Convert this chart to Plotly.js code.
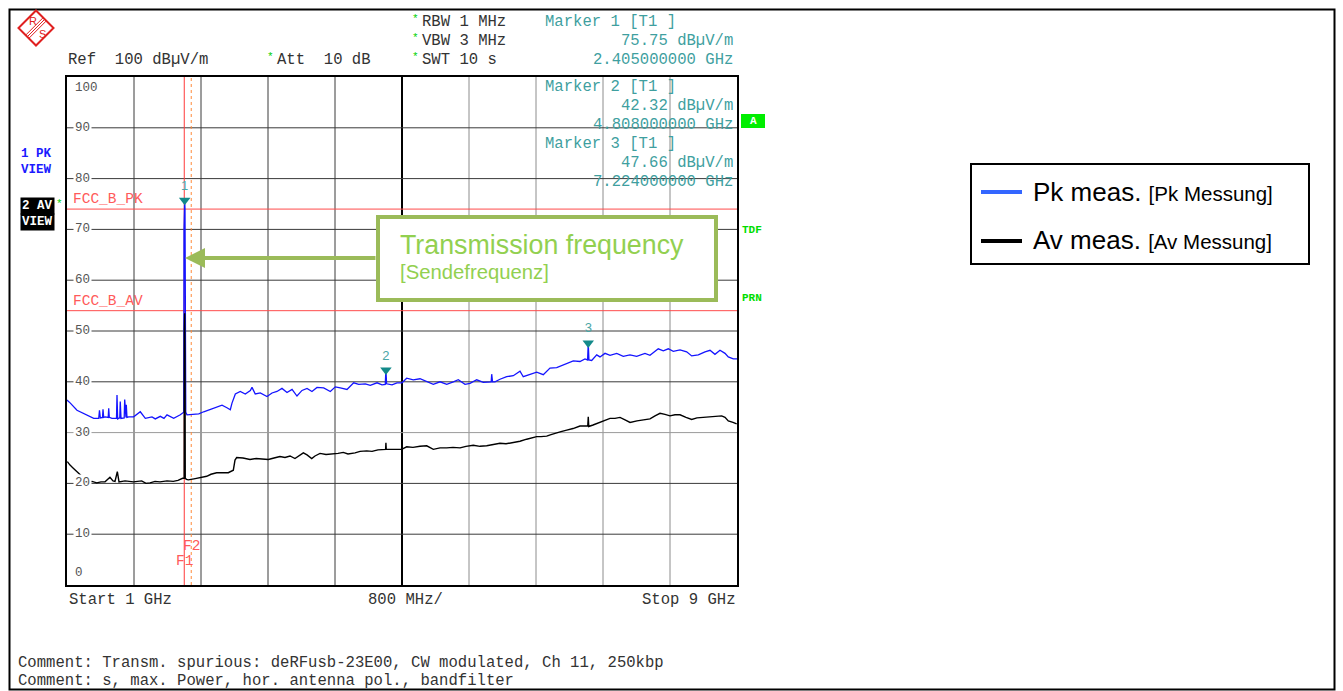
<!DOCTYPE html>
<html><head><meta charset="utf-8">
<script src="https://cdn.plot.ly/plotly-3.0.1.min.js"></script>
<style>html,body{margin:0;padding:0;background:#fff;}#chart{width:1343px;height:691px;}</style>
</head><body><div id="chart"></div>
<script>
// ---------------- data ----------------
const startGHz = 1, stopGHz = 9, spanPerDiv = 0.8;
const pkFreq = [1.000,1.040,1.119,1.179,1.239,1.319,1.379,1.388,1.398,1.424,1.430,1.438,1.457,1.492,1.498,1.505,1.537,1.591,1.597,1.605,1.630,1.636,1.645,1.683,1.689,1.696,1.704,1.708,1.716,1.737,1.796,1.875,1.935,2.015,2.054,2.114,2.158,2.194,2.274,2.353,2.385,2.394,2.397,2.401,2.405,2.409,2.413,2.418,2.433,2.493,2.573,2.632,2.711,2.791,2.851,2.910,2.950,2.970,3.010,3.069,3.129,3.189,3.209,3.248,3.308,3.388,3.448,3.507,3.567,3.627,3.687,3.746,3.806,3.866,3.925,3.985,4.065,4.144,4.204,4.263,4.343,4.423,4.483,4.562,4.621,4.702,4.761,4.800,4.808,4.816,4.881,4.940,5.000,5.056,5.135,5.215,5.295,5.374,5.454,5.534,5.613,5.672,5.752,5.812,5.892,5.971,6.065,6.071,6.081,6.110,6.170,6.250,6.329,6.409,6.448,6.528,6.608,6.687,6.767,6.847,6.926,6.986,7.045,7.125,7.185,7.216,7.224,7.232,7.265,7.325,7.364,7.424,7.484,7.564,7.642,7.722,7.802,7.901,7.961,8.060,8.120,8.180,8.239,8.320,8.399,8.459,8.538,8.618,8.678,8.737,8.797,8.857,8.896,8.956,9.000];
const pkLevel = [36.4,35.8,34.4,33.9,33.5,32.8,32.8,34.4,32.9,33.0,34.6,33.0,33.1,33.0,34.8,33.0,32.8,32.8,37.4,32.7,32.9,36.1,32.8,32.9,36.5,33.0,33.0,35.5,33.0,33.1,33.1,34.1,32.8,33.1,32.7,33.2,32.8,33.5,32.8,33.5,33.8,34.0,70.0,74.5,75.75,74.0,56.0,34.0,33.5,33.6,33.7,34.1,34.6,35.0,35.4,34.9,34.5,35.8,37.6,38.1,37.6,38.3,38.9,37.6,37.8,37.1,37.8,38.1,38.7,37.9,38.5,37.2,38.3,38.7,38.1,38.9,38.8,38.1,39.0,38.8,38.5,39.8,39.5,39.6,39.3,39.8,39.4,39.5,42.32,39.6,39.4,39.8,39.8,40.7,40.4,40.6,40.0,39.5,40.0,39.5,40.0,40.4,39.5,39.7,40.4,39.9,40.0,41.5,40.0,40.0,40.5,41.0,41.2,42.1,41.0,41.5,41.9,41.4,42.7,42.8,43.3,43.6,44.1,44.0,44.5,44.3,47.66,44.3,44.2,45.3,44.9,45.6,45.2,45.6,45.0,45.3,45.0,45.6,45.2,46.5,46.1,46.5,46.0,46.3,45.9,45.1,45.3,45.9,46.2,45.4,46.2,45.6,44.9,44.5,44.5];
const avFreq = [1.004,1.036,1.075,1.116,1.155,1.203,1.254,1.299,1.355,1.406,1.454,1.513,1.549,1.573,1.601,1.621,1.693,1.792,1.892,1.943,1.991,2.051,2.110,2.194,2.269,2.325,2.381,2.399,2.401,2.405,2.409,2.412,2.427,2.448,2.516,2.588,2.668,2.719,2.787,2.851,2.926,2.986,3.006,3.026,3.101,3.185,3.257,3.328,3.404,3.472,3.543,3.603,3.663,3.722,3.782,3.822,3.866,3.922,3.961,4.021,4.093,4.180,4.236,4.299,4.355,4.439,4.499,4.579,4.642,4.713,4.776,4.804,4.808,4.812,4.833,4.916,4.996,5.056,5.131,5.215,5.295,5.374,5.454,5.534,5.609,5.693,5.764,5.851,5.931,6.011,6.086,6.170,6.242,6.329,6.409,6.489,6.540,6.608,6.660,6.728,6.779,6.847,6.898,6.967,7.042,7.125,7.185,7.218,7.224,7.230,7.281,7.364,7.424,7.484,7.543,7.603,7.663,7.723,7.806,7.881,7.961,8.021,8.081,8.140,8.200,8.260,8.320,8.391,8.459,8.522,8.597,8.678,8.749,8.817,8.857,8.896,8.952,8.996];
const avLevel = [24.3,23.6,23.0,22.3,21.7,21.0,20.3,20.4,20.1,20.3,20.3,21.2,20.5,20.4,22.3,20.3,20.5,20.3,20.5,20.0,20.1,20.4,20.3,20.5,20.4,20.6,21.0,21.0,50.0,53.5,45.0,21.0,20.8,20.7,20.9,21.2,21.4,21.8,22.1,22.1,22.1,22.6,24.6,25.1,25.0,24.7,24.9,24.8,24.7,25.0,25.3,25.1,25.4,24.9,25.6,26.0,25.6,24.9,25.4,25.9,25.7,25.8,25.9,26.1,25.8,26.0,26.3,26.4,26.3,26.6,26.7,26.7,28.0,26.7,26.7,26.7,26.7,27.2,27.1,27.3,27.4,26.7,27.0,27.0,27.1,27.0,27.3,27.5,27.3,27.4,27.7,27.9,27.8,28.0,28.3,28.7,28.9,29.2,29.2,29.3,29.6,30.0,30.2,30.5,30.8,31.3,31.3,31.3,33.1,31.2,31.5,32.0,32.4,32.8,32.8,33.0,32.5,32.0,32.3,32.5,32.7,33.3,33.8,33.6,33.3,33.5,33.5,33.0,32.6,32.9,33.0,33.1,33.2,33.3,33.0,32.3,32.0,31.7];
const markerNames = ['1','2','3'];
const markerFreq = [2.405, 4.808, 7.224];
const markerLevel = [75.75, 42.32, 47.66];
const limitNames = ['FCC_B_PK','FCC_B_AV'];
const limitLevel = [74, 54];
const freqLineNames = ['F1','F2'];
const freqLineGHz = [2.4, 2.4835];
const yTickValues = [0,10,20,30,40,50,60,70,80,90,100];
const legendNames = ['Pk meas.','Av meas.'];
const legendNamesDe = ['[Pk Messung]','[Av Messung]'];
const commentLines = ['Comment: Transm. spurious: deRFusb-23E00, CW modulated, Ch 11, 250kbp','Comment: s, max. Power, hor. antenna pol., bandfilter'];

// ---------------- layout helpers (pixel -> paper) ----------------
const L = 67, R = 737, T = 77, B = 585;
const px = x => (x - L) / (R - L);
const py = y => (B - y) / (B - T);
const MONO = 'Liberation Mono, Courier New, monospace';
const SANS = 'Liberation Sans, Arial, sans-serif';
const TEAL = '#3f9f9f';
const FS = 15.6;

function txt(text, x, y, o) {
  o = o || {};
  return {text: text, xref:'paper', yref:'paper', x: px(x), y: py(y),
    xanchor: o.xa || 'left', yanchor: o.ya || 'middle', showarrow:false,
    borderpad: o.pad === undefined ? 0 : o.pad,
    bgcolor: o.bg || 'rgba(0,0,0,0)',
    font: {family: o.family || MONO, size: o.size || FS, color: o.color || '#333'}};
}

const shapes = [];
const annotations = [];

// grid
for (let k = 1; k < 10; k++) {
  const xv = startGHz + k * spanPerDiv;
  shapes.push({type:'line', layer:'below', xref:'x', yref:'paper', x0:xv, x1:xv, y0:0, y1:1,
    line:{color: k === 5 ? '#000' : (k < 5 ? '#3a3a3a' : '#8c8c8c'), width: k === 5 ? 2 : 1}});
}
yTickValues.slice(1, -1).forEach(v => {
  shapes.push({type:'line', layer:'below', xref:'paper', yref:'y', x0:0, x1:1, y0:v, y1:v,
    line:{color: v === 30 ? '#9a9a9a' : '#3a3a3a', width:1}});
});
// limit lines
limitLevel.forEach(v => shapes.push({type:'line', layer:'below', xref:'paper', yref:'y', x0:0, x1:1, y0:v, y1:v, line:{color:'#ff4b4b', width:1}}));
// F1 / F2 lines
freqLineGHz.forEach((f, i) => shapes.push({type:'line', layer:'below', xref:'x', yref:'paper', x0:f, x1:f, y0:0, y1:1,
  line:{color: i === 0 ? '#ff3a3a' : '#ff8a3a', width:1, dash: i === 0 ? 'solid' : 'dot'}}));

// outer border
shapes.push({type:'rect', xref:'paper', yref:'paper', x0:px(9.5), x1:px(1334.5), y0:py(9.5), y1:py(689.5), line:{color:'#000', width:2}});

// R&S logo
shapes.push({type:'path', xref:'paper', yref:'paper', path:`M ${px(36)} ${py(10.5)} L ${px(53.5)} ${py(28)} L ${px(36)} ${py(45.5)} L ${px(18.5)} ${py(28)} Z`, line:{color:'#e02020', width:2}});
[-1.6, 0, 1.6].forEach(d => shapes.push({type:'line', xref:'paper', yref:'paper', x0:px(27.5+d), y0:py(36.5+d), x1:px(44.5+d), y1:py(19.5+d), line:{color:'#e02020', width:1}}));
annotations.push(txt('R', 28, 21, {family:SANS, size:11, color:'#e02020'}));
annotations.push(txt('S', 38, 34, {family:SANS, size:11, color:'#e02020'}));

// header texts
annotations.push(txt('Ref  100 dBµV/m', 67, 60));
annotations.push(txt('*', 266, 57, {size:11, color:'#00d000'}));
annotations.push(txt('Att  10 dB', 276, 60));
[['RBW 1 MHz',22],['VBW 3 MHz',41],['SWT 10 s',60]].forEach(a => {
  annotations.push(txt('*', 411, a[1]-3, {size:11, color:'#00d000'}));
  annotations.push(txt(a[0], 421, a[1]));
});
// marker readouts
markerNames.forEach((m, i) => {
  const y0 = i === 0 ? 22 : (i === 1 ? 87 : 144);
  const dy = 19;
  annotations.push(txt('Marker ' + m + ' [T1 ]', 544, y0, {color:TEAL}));
  annotations.push(txt(markerLevel[i].toFixed(2) + ' dBµV/m', 734, y0 + dy, {xa:'right', color:TEAL}));
  annotations.push(txt(markerFreq[i].toFixed(9) + ' GHz', 734, y0 + 2*dy, {xa:'right', color:TEAL}));
});

// y tick labels inside plot
yTickValues.forEach(v => {
  const a = {text: String(v), xref:'paper', yref:'y', x: px(73), y: v, xanchor:'left', yanchor:'middle',
    showarrow:false, borderpad:1, bgcolor:'#fff', font:{family:MONO, size:12.5, color:'#555'}};
  if (v === 100) { a.bgcolor = 'rgba(0,0,0,0)'; a.yanchor = 'top'; a.yshift = -2; }
  if (v === 0) { a.bgcolor = 'rgba(0,0,0,0)'; a.yanchor = 'bottom'; a.yshift = 3; }
  annotations.push(a);
});

// limit labels
limitNames.forEach((n, i) => annotations.push({text:n, xref:'paper', yref:'y', x:px(72), y:limitLevel[i], xanchor:'left', yanchor:'bottom', yshift:1, showarrow:false, borderpad:0, font:{family:MONO, size:14.5, color:'#ff5a5a'}}));
// F1 / F2 labels
annotations.push({text:freqLineNames[1], xref:'x', yref:'paper', x:freqLineGHz[1], y:py(546), xanchor:'center', yanchor:'middle', showarrow:false, borderpad:0, font:{family:MONO, size:14.5, color:'#ff5a5a'}});
annotations.push({text:freqLineNames[0], xref:'x', yref:'paper', x:freqLineGHz[0], y:py(561), xanchor:'center', yanchor:'middle', showarrow:false, borderpad:0, font:{family:MONO, size:14.5, color:'#ff5a5a'}});

// bottom labels
annotations.push(txt('Start 1 GHz', 68, 600));
annotations.push(txt('800 MHz/', 367, 600));
annotations.push(txt('Stop 9 GHz', 737, 600, {xa:'right'}));
annotations.push(txt(commentLines[0], 17, 663));
annotations.push(txt(commentLines[1], 17, 681));

// left trace labels
annotations.push(txt('<b>1 PK</b>', 20, 154, {size:12.5, color:'#1a1aff'}));
annotations.push(txt('<b>VIEW</b>', 20, 170, {size:12.5, color:'#1a1aff'}));
annotations.push(txt('<b>2 AV</b>', 20, 206, {size:12.5, color:'#fff', bg:'#000', pad:1}));
annotations.push(txt('<b>VIEW</b>', 20, 222, {size:12.5, color:'#fff', bg:'#000', pad:1}));
annotations.push(txt('*', 55, 204, {size:11, color:'#00d000'}));

// right status labels
shapes.push({type:'rect', xref:'paper', yref:'paper', x0:px(741), x1:px(765), y0:py(128), y1:py(114), fillcolor:'#00ee00', line:{width:0}});
annotations.push(txt('<b>A</b>', 753, 121, {xa:'center', size:11, color:'#fff'}));
annotations.push(txt('<b>TDF</b>', 741, 230, {size:11, color:'#00dd00'}));
annotations.push(txt('<b>PRN</b>', 741, 298, {size:11, color:'#00dd00'}));

// callout box + arrow
shapes.push({type:'rect', xref:'paper', yref:'paper', x0:px(378), x1:px(716), y0:py(300), y1:py(217), fillcolor:'#fff', line:{color:'#9bbb59', width:4}, layer:'above'});
annotations.push(txt('Transmission frequency', 399, 245, {family:SANS, size:26.8, color:'#92d050'}));
annotations.push(txt('[Sendefrequenz]', 399, 272, {family:SANS, size:20.3, color:'#92d050'}));
annotations.push({text:'', xref:'paper', yref:'paper', x:px(185), y:py(258), ax:192, ay:0, axref:'pixel', ayref:'pixel',
  showarrow:true, arrowhead:2, arrowsize:1, arrowwidth:4, arrowcolor:'#9bbb59', standoff:0, startstandoff:0});

// manual legend
shapes.push({type:'rect', xref:'paper', yref:'paper', x0:px(971), x1:px(1309), y0:py(264), y1:py(164), line:{color:'#000', width:2}});
shapes.push({type:'line', xref:'paper', yref:'paper', x0:px(981), x1:px(1022), y0:py(192), y1:py(192), line:{color:'#3366ff', width:4}});
shapes.push({type:'line', xref:'paper', yref:'paper', x0:px(981), x1:px(1022), y0:py(241), y1:py(241), line:{color:'#000', width:4}});
legendNames.forEach((n, i) => annotations.push(txt(n + ' <span style="font-size:20.5px">' + legendNamesDe[i] + '</span>', 1032, i === 0 ? 192 : 240, {family:SANS, size:26, color:'#000'})));

const traces = [
  {type:'scatter', mode:'lines', x:pkFreq, y:pkLevel, line:{color:'#1414ff', width:1.3}, name:legendNames[0], hoverinfo:'skip'},
  {type:'scatter', mode:'lines', x:avFreq, y:avLevel, line:{color:'#000', width:1.4}, name:legendNames[1], hoverinfo:'skip'},
  {type:'scatter', mode:'markers+text', x:markerFreq, y:markerLevel, text:markerNames, textposition:'top center',
   marker:{symbol:'triangle-down', size:10, color:'#138a8a'}, textfont:{family:SANS, size:13, color:'#4aa6a6'}, cliponaxis:false, hoverinfo:'skip'}
];

const layout = {
  width:1343, height:691,
  margin:{l:L, r:1343-R, t:T, b:691-B, pad:0},
  paper_bgcolor:'#fff', plot_bgcolor:'#fff', showlegend:false,
  font:{family:MONO, size:FS, color:'#333'},
  xaxis:{range:[startGHz, stopGHz], showgrid:false, zeroline:false, showticklabels:false, ticks:'', showline:true, mirror:true, linecolor:'#000', linewidth:2, fixedrange:true},
  yaxis:{range:[0, 100], showgrid:false, zeroline:false, showticklabels:false, ticks:'', showline:true, mirror:true, linecolor:'#000', linewidth:2, fixedrange:true},
  shapes:shapes, annotations:annotations
};
Plotly.newPlot('chart', traces, layout, {displayModeBar:false, staticPlot:true});
</script></body></html>
